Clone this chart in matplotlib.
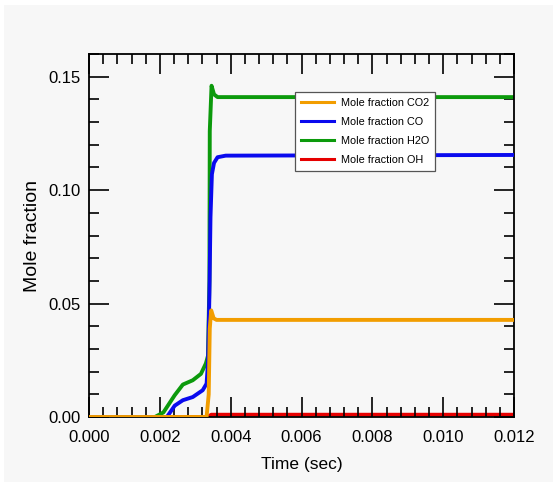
import matplotlib.pyplot as plt
from matplotlib.patches import Rectangle
from matplotlib.ticker import MultipleLocator

# time (sec) / mole fraction
t_co2 = [0.0, 0.00332, 0.00338, 0.00341, 0.00345, 0.00352, 0.00360, 0.012]
co2 = [0.0, 0.0, 0.010, 0.039, 0.047, 0.0435, 0.0428, 0.0428]

t_co = [0.0, 0.00220, 0.00242, 0.00265, 0.00293, 0.00321, 0.00332, 0.00336,
        0.00340, 0.00343, 0.00347, 0.00353, 0.00363, 0.00386, 0.012]
co = [0.0, 0.0, 0.005, 0.0074, 0.0088, 0.0118, 0.0147, 0.024,
      0.054, 0.088, 0.107, 0.112, 0.1145, 0.1152, 0.1155]

t_h2o = [0.0, 0.00186, 0.00210, 0.00242, 0.00265, 0.00293, 0.00316, 0.00330,
         0.00336, 0.00340, 0.00341, 0.00346, 0.00353, 0.00363, 0.012]
h2o = [0.0, 0.0, 0.002, 0.0096, 0.0143, 0.0162, 0.019, 0.0236,
       0.027, 0.06, 0.126, 0.146, 0.1422, 0.141, 0.141]

t_oh = [0.0, 0.00336, 0.00345, 0.012]
oh = [0.0, 0.0, 0.001, 0.001]

fig = plt.figure(figsize=(5.53, 4.82), dpi=100, facecolor="white")
fig.patches.append(Rectangle((4 / 553, 0), 1, 1 - 5 / 482, transform=fig.transFigure,
                             facecolor="#f7f7f7", edgecolor="none", zorder=-10))
ax = fig.add_axes([89 / 553, 65 / 482, 425 / 553, 363 / 482])
ax.set_facecolor("#f7f7f7")

lw = 2.8
ax.plot(t_oh, oh, color="#e60000", lw=lw, label="Mole fraction OH", zorder=1)
ax.plot(t_h2o, h2o, color="#0c9a0c", lw=lw, label="Mole fraction H2O", zorder=2)
ax.plot(t_co, co, color="#0a0aee", lw=lw, label="Mole fraction CO", zorder=3)
ax.plot(t_co2, co2, color="#f29d00", lw=lw, label="Mole fraction CO2", zorder=4)

ax.set_xlim(0, 0.012)
ax.set_ylim(0, 0.16)
ax.xaxis.set_major_locator(MultipleLocator(0.002))
ax.xaxis.set_minor_locator(MultipleLocator(0.0004))
ax.yaxis.set_major_locator(MultipleLocator(0.05))
ax.yaxis.set_minor_locator(MultipleLocator(0.01))
ax.xaxis.set_major_formatter(plt.FormatStrFormatter("%.3f"))
ax.yaxis.set_major_formatter(plt.FormatStrFormatter("%.2f"))

ax.tick_params(which="both", direction="in", top=True, right=True, width=1.2)
ax.tick_params(which="major", length=14.5, labelsize=12)
ax.tick_params(axis="x", which="major", pad=9)
ax.tick_params(axis="y", which="major", pad=6)
ax.tick_params(which="minor", length=7.2)
for s in ax.spines.values():
    s.set_linewidth(1.3)

for lab in ax.get_xticklabels() + ax.get_yticklabels():
    lab.set_family("Liberation Sans")

ax.set_xlabel("Time (sec)", fontsize=12.5, family="Liberation Sans", labelpad=9)
ax.set_ylabel("Mole fraction", fontsize=14, family="Liberation Sans", labelpad=5)

h, l = ax.get_legend_handles_labels()
order = [3, 2, 1, 0]
leg = ax.legend([h[i] for i in order], [l[i] for i in order],
                loc="upper left", bbox_to_anchor=(0.485, 0.895),
                prop={"family": "Liberation Sans", "size": 7.8},
                fancybox=False, framealpha=1, edgecolor="#555555",
                handlelength=3.1, handletextpad=0.65, labelspacing=0.85,
                borderpad=0.5, borderaxespad=0)
leg.get_frame().set_linewidth(0.9)
for ln in leg.get_lines():
    ln.set_linewidth(2.2)

fig.savefig("out.png", dpi=100, facecolor=fig.get_facecolor())
